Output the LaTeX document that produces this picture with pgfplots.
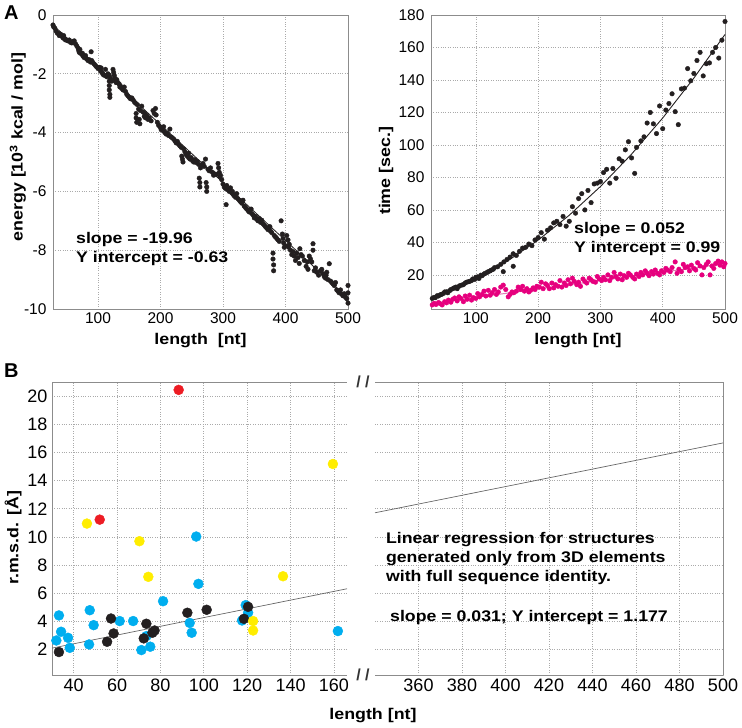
\documentclass[border=0pt]{standalone}
\usepackage{fontspec}
\setmainfont{Liberation Sans}
\newfontfamily\bw{Liberation Sans}[FakeStretch=1.15]
\usepackage{pgfplots}
\pgfplotsset{compat=1.18}
\definecolor{cyanp}{RGB}{0,174,239}
\definecolor{yellowp}{RGB}{255,237,0}
\definecolor{redp}{RGB}{237,28,36}
\definecolor{blackp}{RGB}{35,31,32}
\definecolor{pinkp}{RGB}{230,0,126}
\definecolor{pinkl}{RGB}{225,120,180}
\definecolor{gridc}{RGB}{170,170,170}
\definecolor{framec}{RGB}{140,140,140}
\newcommand{\tickfont}{\fontsize{15.5bp}{15.5bp}\selectfont}
\newcommand{\btickfont}{\fontsize{18bp}{18bp}\selectfont}
\newcommand{\labfont}{\bw\bfseries\fontsize{15.5bp}{18bp}\selectfont}
\newcommand{\annfont}{\bw\bfseries\fontsize{15.4bp}{19bp}\selectfont}
\pgfplotsset{
  base/.style={scale only axis, anchor=south west, clip=false,
    axis line style={framec, line width=0.8pt},
    grid=major, major grid style={gridc, dotted, line width=0.7pt},
    major tick length=0pt, tick style={draw=none},
    /pgf/number format/assume math mode=true,
    every axis x label/.style={at={(rel axis cs:0.5,0)}, anchor=north, yshift=-21bp, font=\labfont},
  },
}
\begin{document}
\begin{tikzpicture}
\path[use as bounding box] (0,0) rectangle (742bp,-728bp);
\node[font=\bfseries\fontsize{20bp}{20bp}\selectfont, anchor=north west, inner sep=0] at (4bp,-6bp) {A};
\node[font=\bfseries\fontsize{20bp}{20bp}\selectfont, anchor=north west, inner sep=0] at (4bp,-364bp) {B};
% ---------------- top left
\begin{axis}[base, at={(53bp,-309bp)}, width=295bp, height=294bp,
  xmin=28, xmax=500, ymin=-10, ymax=0,
  xtick={100,200,300,400,500}, ytick={-10,-8,-6,-4,-2,0},
  ticklabel style={font=\tickfont}, yticklabel style={xshift=-3bp},
  xlabel={length\ \ [nt]},
  ylabel={energy [10\textsuperscript{3} kcal / mol]},
  ylabel style={at={(rel axis cs:-0.119,0.551)}, anchor=center, rotate=0, font=\labfont}]
\addplot[only marks, mark=*, mark size=2.3, color=blackp] table[row sep=\\] {
x y\\
28 -0.34\\ 29 -0.40\\ 31 -0.45\\ 33 -0.55\\ 35 -0.62\\ 37 -0.63\\ 38 -0.70\\ 40 -0.65\\ 42 -0.72\\ 44 -0.78\\
45 -0.70\\ 46 -0.80\\ 48 -0.85\\ 50 -0.85\\ 52 -0.88\\ 54 -0.85\\ 56 -0.93\\ 58 -0.95\\ 60 -0.90\\ 62 -0.88\\
64 -0.98\\ 66 -1.05\\ 68 -1.12\\ 69 -1.20\\ 70 -1.27\\ 71 -1.17\\ 72 -1.30\\ 74 -1.33\\ 75 -1.30\\ 76 -1.40\\
78 -1.45\\ 80 -1.38\\ 82 -1.50\\ 84 -1.55\\ 86 -1.52\\ 88 -1.60\\ 89 -1.25\\ 90 -1.55\\ 92 -1.62\\ 94 -1.67\\
96 -1.72\\ 98 -1.77\\ 100 -1.82\\ 102 -1.78\\ 104 -1.90\\ 105 -1.80\\ 106 -1.95\\ 108 -2.02\\ 110 -2.05\\ 112 -1.85\\
114 -2.10\\ 116 -2.00\\ 118 -2.05\\ 118 -2.25\\ 118 -2.40\\ 118 -2.55\\ 119 -2.70\\ 119 -2.80\\ 120 -2.15\\ 122 -2.25\\
124 -1.85\\ 125 -1.95\\ 126 -2.05\\ 127 -2.15\\ 128 -2.25\\ 129 -2.30\\ 130 -2.20\\ 132 -2.30\\ 134 -2.35\\ 135 -2.45\\
136 -2.42\\ 138 -2.50\\ 140 -2.55\\ 142 -2.45\\ 144 -2.60\\ 146 -2.70\\ 148 -2.75\\ 150 -2.80\\ 152 -2.85\\ 154 -2.82\\
156 -2.88\\ 158 -2.95\\ 160 -3.00\\ 161 -3.35\\ 161 -3.50\\ 162 -3.65\\ 163 -3.05\\ 165 -3.20\\ 166 -3.55\\ 167 -3.70\\
168 -3.25\\ 170 -3.10\\ 172 -3.30\\ 174 -3.45\\ 175 -3.35\\ 176 -3.50\\ 178 -3.42\\ 180 -3.55\\ 182 -3.50\\ 185 -3.60\\
188 -3.25\\ 190 -3.35\\ 192 -3.18\\ 193 -3.40\\ 195 -3.65\\ 197 -3.75\\ 199 -3.80\\ 201 -3.90\\ 203 -3.85\\ 205 -3.95\\
205 -3.80\\ 207 -4.00\\ 209 -4.05\\ 211 -4.02\\ 213 -4.10\\ 215 -3.88\\ 217 -4.15\\ 219 -4.18\\ 221 -4.22\\ 223 -4.28\\
225 -4.35\\ 227 -4.30\\ 229 -4.40\\ 231 -4.45\\ 233 -4.50\\ 234 -4.80\\ 235 -4.90\\ 236 -5.00\\ 237 -4.55\\ 239 -4.65\\
241 -4.75\\ 243 -4.80\\ 245 -4.85\\ 245 -4.70\\ 247 -4.90\\ 249 -4.85\\ 251 -4.95\\ 253 -5.00\\ 255 -4.92\\ 257 -5.02\\
259 -4.98\\ 261 -5.08\\ 262 -5.55\\ 263 -5.70\\ 263 -5.85\\ 264 -5.20\\ 266 -5.10\\ 268 -5.05\\ 270 -5.15\\ 272 -4.90\\
273 -5.70\\ 274 -5.85\\ 274 -6.00\\ 276 -5.25\\ 278 -5.30\\ 280 -5.20\\ 283 -5.35\\ 285 -5.45\\ 286 -5.40\\ 289 -5.42\\
292 -5.05\\ 293 -5.20\\ 294 -5.35\\ 295 -5.50\\ 296 -5.45\\ 298 -5.60\\ 300 -5.75\\ 302 -5.85\\ 304 -5.90\\ 305 -6.45\\
306 -5.80\\ 308 -5.95\\ 310 -6.00\\ 312 -5.88\\ 314 -6.05\\ 315 -6.00\\ 316 -6.10\\ 318 -6.15\\ 320 -6.20\\ 322 -6.08\\
324 -6.25\\ 326 -6.30\\ 328 -6.35\\ 330 -6.40\\ 332 -6.30\\ 334 -6.50\\ 336 -6.55\\ 338 -6.60\\ 340 -6.65\\ 342 -6.70\\
344 -6.62\\ 345 -6.60\\ 346 -6.75\\ 348 -6.80\\ 350 -6.90\\ 352 -6.85\\ 354 -6.95\\ 356 -7.00\\ 358 -6.92\\ 360 -7.05\\
362 -6.98\\ 364 -7.10\\ 366 -7.15\\ 368 -7.20\\ 370 -7.25\\ 372 -7.30\\ 374 -7.22\\ 375 -7.20\\ 376 -7.35\\ 378 -7.40\\
380 -8.10\\ 380 -8.30\\ 381 -8.50\\ 381 -8.70\\ 382 -7.50\\ 384 -7.55\\ 386 -7.60\\ 388 -7.65\\ 390 -7.70\\ 393 -7.00\\
395 -7.45\\ 396 -7.60\\ 397 -7.75\\ 398 -7.90\\ 400 -7.85\\ 402 -7.50\\ 404 -7.65\\ 405 -7.90\\ 406 -7.80\\ 408 -8.00\\
410 -8.15\\ 412 -8.05\\ 414 -8.20\\ 416 -8.35\\ 418 -8.10\\ 420 -8.25\\ 422 -8.45\\ 423 -7.95\\ 425 -8.15\\ 427 -8.20\\
430 -8.35\\ 433 -8.55\\ 435 -8.40\\ 436 -8.65\\ 438 -8.20\\ 440 -8.30\\ 442 -8.40\\ 444 -7.78\\ 444 -8.00\\ 446 -8.70\\
448 -8.60\\ 450 -8.75\\ 453 -8.85\\ 456 -8.70\\ 458 -8.65\\ 460 -8.80\\ 462 -8.90\\ 464 -8.95\\ 465 -8.85\\ 466 -8.75\\
468 -9.00\\ 470 -8.46\\ 472 -9.05\\ 474 -9.10\\ 476 -9.15\\ 478 -9.20\\ 480 -9.10\\ 482 -9.35\\ 484 -9.40\\ 486 -9.45\\
488 -9.35\\ 490 -9.50\\ 492 -9.55\\ 494 -9.48\\ 495 -9.55\\ 496 -9.60\\ 498 -9.65\\ 500 -9.20\\ 500 -9.45\\ 500 -9.80\\
};
\addplot[blackp, line width=0.8pt] coordinates {(28,-0.34) (500,-9.64)};
\node[font=\annfont, align=left, anchor=north west, inner sep=0] at (axis cs:64.8,-7.39) {slope = -19.96\\Y intercept = -0.63};
\end{axis}
% ---------------- top right
\begin{axis}[base, at={(431bp,-309bp)}, width=294bp, height=294bp,
  xmin=28, xmax=500, ymin=-1, ymax=180,
  xtick={100,200,300,400,500}, ytick={20,40,...,180},
  ticklabel style={font=\tickfont}, yticklabel style={xshift=-3bp},
  xlabel={length [nt]},
  ylabel={time [sec.]},
  ylabel style={at={(rel axis cs:-0.153,0.47)}, anchor=center, rotate=0, font=\labfont}]
\addplot[only marks, mark=*, mark size=2.3, color=blackp] table[row sep=\\] {
x y\\
30 5.5\\ 33 6.2\\ 35 6.0\\ 38 7.2\\ 40 7.0\\ 43 7.8\\ 45 8.0\\ 48 8.6\\ 50 9.5\\ 53 9.6\\
55 9.0\\ 58 10.3\\ 60 11.0\\ 63 11.5\\ 65 12.0\\ 68 12.5\\ 70 11.5\\ 73 13.0\\ 75 13.5\\ 78 13.8\\
80 14.0\\ 83 15.0\\ 85 15.5\\ 88 15.8\\ 90 16.0\\ 93 16.5\\ 95 17.5\\ 98 17.2\\ 100 18.5\\ 103 18.8\\
105 17.8\\ 108 19.8\\ 110 19.5\\ 113 20.5\\ 115 21.0\\ 118 21.5\\ 120 22.0\\ 123 22.5\\ 125 23.0\\ 128 23.5\\
130 24.5\\ 135 25.0\\ 140 26.5\\ 144 22.0\\ 145 28.0\\ 150 29.5\\ 155 31.0\\ 160 25.3\\ 160 33.0\\ 165 32.0\\
170 34.5\\ 175 36.5\\ 180 37.0\\ 185 39.0\\ 190 38.0\\ 195 41.5\\ 200 43.0\\ 205 46.0\\ 210 42.0\\ 215 47.5\\
220 49.0\\ 225 52.0\\ 230 53.0\\ 235 51.0\\ 240 56.0\\ 245 50.0\\ 250 53.0\\ 255 62.0\\ 260 58.0\\ 265 67.0\\
270 70.0\\ 275 60.0\\ 280 72.0\\ 285 64.5\\ 290 76.0\\ 295 76.5\\ 300 77.5\\ 305 83.0\\ 310 85.0\\ 315 76.5\\
320 85.5\\ 325 79.5\\ 330 91.5\\ 335 90.0\\ 340 97.0\\ 345 102.0\\ 350 92.0\\ 355 82.5\\ 358 98.5\\ 365 102.5\\
370 105.0\\ 375 113.5\\ 380 120.0\\ 385 113.0\\ 390 107.0\\ 395 124.0\\ 400 110.0\\ 405 121.5\\ 410 125.5\\ 415 131.5\\
420 120.5\\ 425 112.5\\ 430 134.5\\ 435 135.0\\ 440 147.0\\ 445 139.5\\ 450 144.0\\ 455 152.0\\ 460 157.0\\ 465 142.5\\
470 150.0\\ 475 150.5\\ 480 157.0\\ 485 160.0\\ 490 153.5\\ 495 164.5\\ 500 176.0\\
};
\addplot[only marks, mark=*, mark size=2.3, color=pinkp] table[row sep=\\] {
x y\\
30 1.5\\ 33 2.5\\ 36 1.8\\ 40 3.0\\ 43 2.2\\ 46 1.5\\ 50 3.5\\ 53 2.8\\ 56 4.5\\ 60 3.2\\
63 5.0\\ 66 5.8\\ 70 4.0\\ 73 6.5\\ 76 5.5\\ 80 3.5\\ 83 7.0\\ 86 5.0\\ 90 7.5\\ 93 4.5\\
96 6.0\\ 100 5.5\\ 103 8.5\\ 106 6.5\\ 110 8.0\\ 113 10.0\\ 116 7.0\\ 120 10.5\\ 123 7.5\\ 126 9.0\\
130 11.0\\ 133 8.0\\ 136 9.5\\ 140 12.5\\ 144 13.7\\ 148 11.0\\ 152 6.5\\ 155 8.0\\ 158 9.5\\ 161 9.0\\
165 10.0\\ 168 12.5\\ 172 11.0\\ 175 13.0\\ 178 10.0\\ 182 11.5\\ 185 9.5\\ 188 10.5\\ 192 12.0\\ 195 11.0\\
198 13.0\\ 202 12.5\\ 205 15.5\\ 208 11.5\\ 212 14.5\\ 215 13.5\\ 218 11.5\\ 222 15.0\\ 225 12.0\\ 228 14.0\\
232 13.0\\ 235 16.5\\ 238 12.5\\ 242 15.0\\ 245 13.5\\ 248 17.0\\ 252 14.5\\ 255 18.0\\ 258 16.0\\ 262 14.0\\
265 15.5\\ 268 13.0\\ 272 17.5\\ 275 16.0\\ 278 15.0\\ 282 18.0\\ 285 17.0\\ 288 16.0\\ 292 15.5\\ 295 19.0\\
298 17.5\\ 302 16.5\\ 305 18.5\\ 308 17.0\\ 312 20.0\\ 315 16.5\\ 318 18.5\\ 322 21.5\\ 325 19.0\\ 328 17.5\\
332 20.5\\ 335 17.0\\ 338 19.5\\ 342 18.5\\ 345 21.0\\ 348 20.0\\ 352 18.5\\ 355 17.5\\ 358 20.5\\ 362 19.0\\
365 21.5\\ 368 20.0\\ 372 22.5\\ 375 21.0\\ 378 19.5\\ 382 22.0\\ 385 20.5\\ 388 23.0\\ 392 21.0\\ 395 20.0\\
398 22.5\\ 402 21.5\\ 405 24.0\\ 408 23.0\\ 412 22.0\\ 415 24.5\\ 420 28.0\\ 423 21.0\\ 426 23.5\\ 430 22.0\\
433 26.5\\ 436 24.5\\ 440 25.0\\ 443 22.5\\ 446 26.0\\ 450 24.0\\ 453 23.0\\ 456 27.5\\ 460 25.5\\ 463 20.0\\
466 24.5\\ 470 26.5\\ 473 28.0\\ 476 20.0\\ 479 25.5\\ 482 24.0\\ 485 27.0\\ 489 28.5\\ 492 26.0\\ 495 28.0\\
498 25.0\\ 500 27.0\\
};
\addplot[blackp, line width=0.9pt] coordinates {(30,6.41) (60,10.66) (100,17.6) (150,28.35) (200,41.4) (250,56.75) (300,74.4) (350,94.35) (400,116.6) (450,141.15) (500,168)};
\addplot[pinkl, line width=1pt] coordinates {(30,2.5) (500,26.9)};
\node[font=\annfont, align=left, anchor=north west, inner sep=0] at (axis cs:257.5,52.5) {slope = 0.052\\Y intercept = 0.99};
\end{axis}
% ---------------- bottom left
\begin{axis}[base, at={(52bp,-675bp)}, width=295bp, height=293bp,
  xmin=30, xmax=166, ymin=0.2, ymax=21,
  axis x line*=box, axis y line*=left,
  xtick={40,60,...,160}, ytick={2,4,...,20},
  ticklabel style={font=\btickfont}, yticklabel style={xshift=-1bp},
  ylabel={r.m.s.d. [Å]},
  ylabel style={at={(rel axis cs:-0.132,0.468)}, anchor=center, rotate=0, font=\labfont}]
\addplot[gray!80!black, line width=0.7pt] coordinates {(30,2.107) (166,6.323)};
\addplot[only marks, mark=*, mark size=5, color=cyanp] table[row sep=\\] {
x y\\
33.2 4.43\\ 32.0 2.65\\ 34.2 3.27\\ 37.4 2.84\\ 38.2 2.13\\ 47.4 4.80\\ 49.2 3.74\\ 47.1 2.37\\ 61.2 4.03\\ 67.4 4.03\\
71.2 1.97\\ 73.5 2.96\\ 75.3 2.21\\ 81.2 5.44\\ 96.5 10.03\\ 97.5 6.67\\ 93.5 3.90\\ 94.4 3.20\\ 117.6 4.07\\ 119.3 5.16\\
120.4 4.62\\ 161.8 3.32\\
};
\addplot[only marks, mark=*, mark size=5, color=blackp] table[row sep=\\] {
x y\\
33.2 1.83\\ 57.2 4.21\\ 55.4 2.56\\ 58.4 3.15\\ 73.5 3.84\\ 72.3 2.80\\ 76.3 3.20\\ 77.3 3.36\\ 92.4 4.62\\ 101.3 4.83\\
118.5 4.19\\ 120.4 5.04\\
};
\addplot[only marks, mark=*, mark size=5, color=yellowp] table[row sep=\\] {
x y\\
46.1 10.95\\ 70.3 9.70\\ 74.4 7.17\\ 136.5 7.21\\ 159.5 15.18\\ 122.7 4.03\\ 122.7 3.36\\
};
\addplot[only marks, mark=*, mark size=5, color=redp] table[row sep=\\] {
x y\\
88.4 20.44\\ 52.0 11.23\\
};
\node[font=\labfont, anchor=north, inner sep=0] at (rel axis cs:1.088,0) [yshift=-33bp] {length [nt]};
\end{axis}
% ---------------- bottom right
\begin{axis}[base, at={(375bp,-675bp)}, width=348bp, height=293bp,
  xmin=340, xmax=500, ymin=0.2, ymax=21,
  axis x line*=box, axis y line*=right,
  xtick={360,380,...,500}, ytick={2,4,...,20}, yticklabels={},
  ticklabel style={font=\btickfont}]
\addplot[gray!80!black, line width=0.7pt] coordinates {(340,11.717) (500,16.677)};
\node[font=\annfont, align=left, anchor=north west, inner sep=0] at (axis cs:345,10.35) {Linear regression for structures\\generated only from 3D elements\\with full sequence identity.};
\node[font=\annfont, anchor=north west, inner sep=0] at (axis cs:346.9,4.8) {slope = 0.031; Y intercept = 1.177};
\node[font=\bfseries\fontsize{16bp}{16bp}\selectfont, text=black!80, inner sep=0] at (rel axis cs:0,1) [xshift=-12bp] {/\ /};
\node[font=\bfseries\fontsize{16bp}{16bp}\selectfont, text=black!80, inner sep=0] at (rel axis cs:0,0) [xshift=-12bp] {/\ /};
\end{axis}
\end{tikzpicture}
\end{document}
